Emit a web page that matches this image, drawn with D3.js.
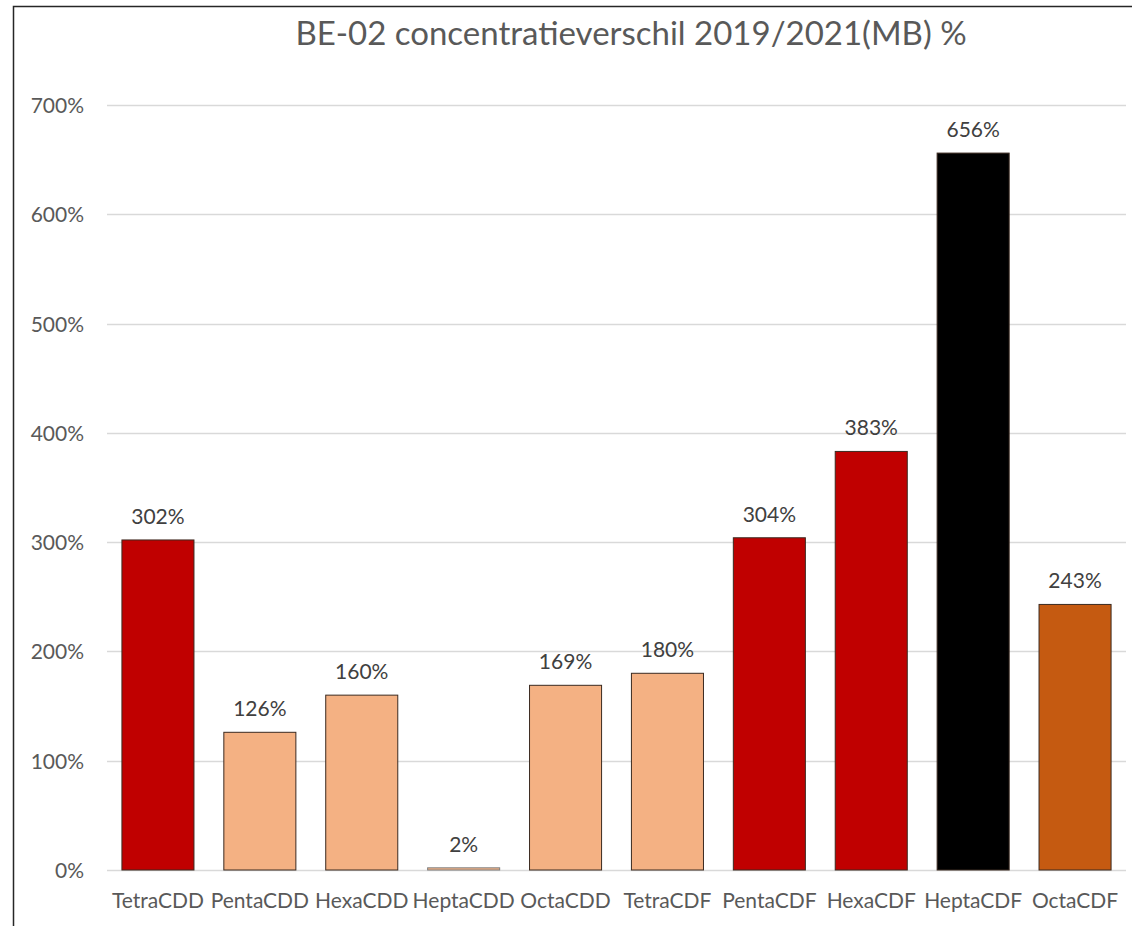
<!DOCTYPE html>
<html>
<head>
<meta charset="utf-8">
<script src="https://cdn.jsdelivr.net/npm/d3@7"></script>
<style>
  html, body { margin: 0; padding: 0; background: #fff; }
  svg { display: block; }
  text { font-family: Lato, "Noto Sans", sans-serif; }
</style>
</head>
<body>
<div id="chart"></div>
<script>
// Concentration difference per congener group, in percent
const categories = ["TetraCDD", "PentaCDD", "HexaCDD", "HeptaCDD", "OctaCDD",
                    "TetraCDF", "PentaCDF", "HexaCDF", "HeptaCDF", "OctaCDF"];
const values = [302, 126, 160, 2, 169, 180, 304, 383, 656, 243];
const barColors = ["#C00000", "#F4B183", "#F4B183", "#F4B183", "#F4B183",
                   "#F4B183", "#C00000", "#C00000", "#000000", "#C55A11"];
const yTicks = [0, 100, 200, 300, 400, 500, 600, 700];
const titleText = "BE-02 concentratieverschil 2019/2021(MB) %";

const W = 1132, H = 926;
const plot = { left: 107, right: 1126, top: 105, bottom: 870 };

const svg = d3.select("#chart").append("svg")
  .attr("width", W).attr("height", H);

// outer frame (left and top edges visible)
svg.append("path")
  .attr("d", `M13.5,${H} V6.5 H${W}`)
  .attr("fill", "none")
  .attr("stroke", "#262626")
  .attr("stroke-width", 1.5);

const x = d3.scaleBand()
  .domain(categories)
  .range([plot.left, plot.right])
  .paddingInner(0.293)
  .paddingOuter(0.1465);

const y = d3.scaleLinear()
  .domain([0, 700])
  .range([plot.bottom, plot.top]);

// gridlines
svg.append("g")
  .selectAll("line")
  .data(yTicks)
  .join("line")
  .attr("x1", plot.left).attr("x2", plot.right)
  .attr("y1", d => Math.round(y(d)) + 0.5)
  .attr("y2", d => Math.round(y(d)) + 0.5)
  .attr("stroke", "#d9d9d9")
  .attr("stroke-width", 1.5);

// y axis labels
const yAxis = d3.axisLeft(y).tickValues(yTicks).tickFormat(d => d + "%").tickSize(0).tickPadding(0);
const gy = svg.append("g").attr("transform", `translate(84,0)`).call(yAxis);
gy.select(".domain").remove();
gy.selectAll("text")
  .attr("dy", "0.36em")
  .attr("fill", "#595959")
  .style("font-size", "21px")
  .style("font-family", "Lato, 'Noto Sans', sans-serif");

// bars
svg.append("g")
  .selectAll("rect")
  .data(values)
  .join("rect")
  .attr("x", (d, i) => x(categories[i]))
  .attr("width", x.bandwidth())
  .attr("y", d => y(d))
  .attr("height", d => y(0) - y(d))
  .attr("fill", (d, i) => barColors[i])
  .attr("stroke", (d, i) => i === 3 ? "#7f7f7f" : "#3b2a20")
  .attr("stroke-width", 1);

// data labels
svg.append("g")
  .selectAll("text")
  .data(values)
  .join("text")
  .attr("x", (d, i) => x(categories[i]) + x.bandwidth() / 2)
  .attr("y", d => y(d) - 16)
  .attr("text-anchor", "middle")
  .attr("fill", "#404040")
  .style("font-size", "21px")
  .text(d => d + "%");

// category labels
const xAxis = d3.axisBottom(x).tickSize(0).tickPadding(0);
const gx = svg.append("g").attr("transform", `translate(0,${plot.bottom + 38})`).call(xAxis);
gx.select(".domain").remove();
gx.selectAll("text")
  .attr("dy", "0")
  .attr("fill", "#595959")
  .style("font-size", "21px")
  .style("font-family", "Lato, 'Noto Sans', sans-serif");

// title
svg.append("text")
  .attr("x", 631)
  .attr("y", 45)
  .attr("text-anchor", "middle")
  .attr("fill", "#595959")
  .style("font-size", "33px")
  .text(titleText);
</script>
</body>
</html>
